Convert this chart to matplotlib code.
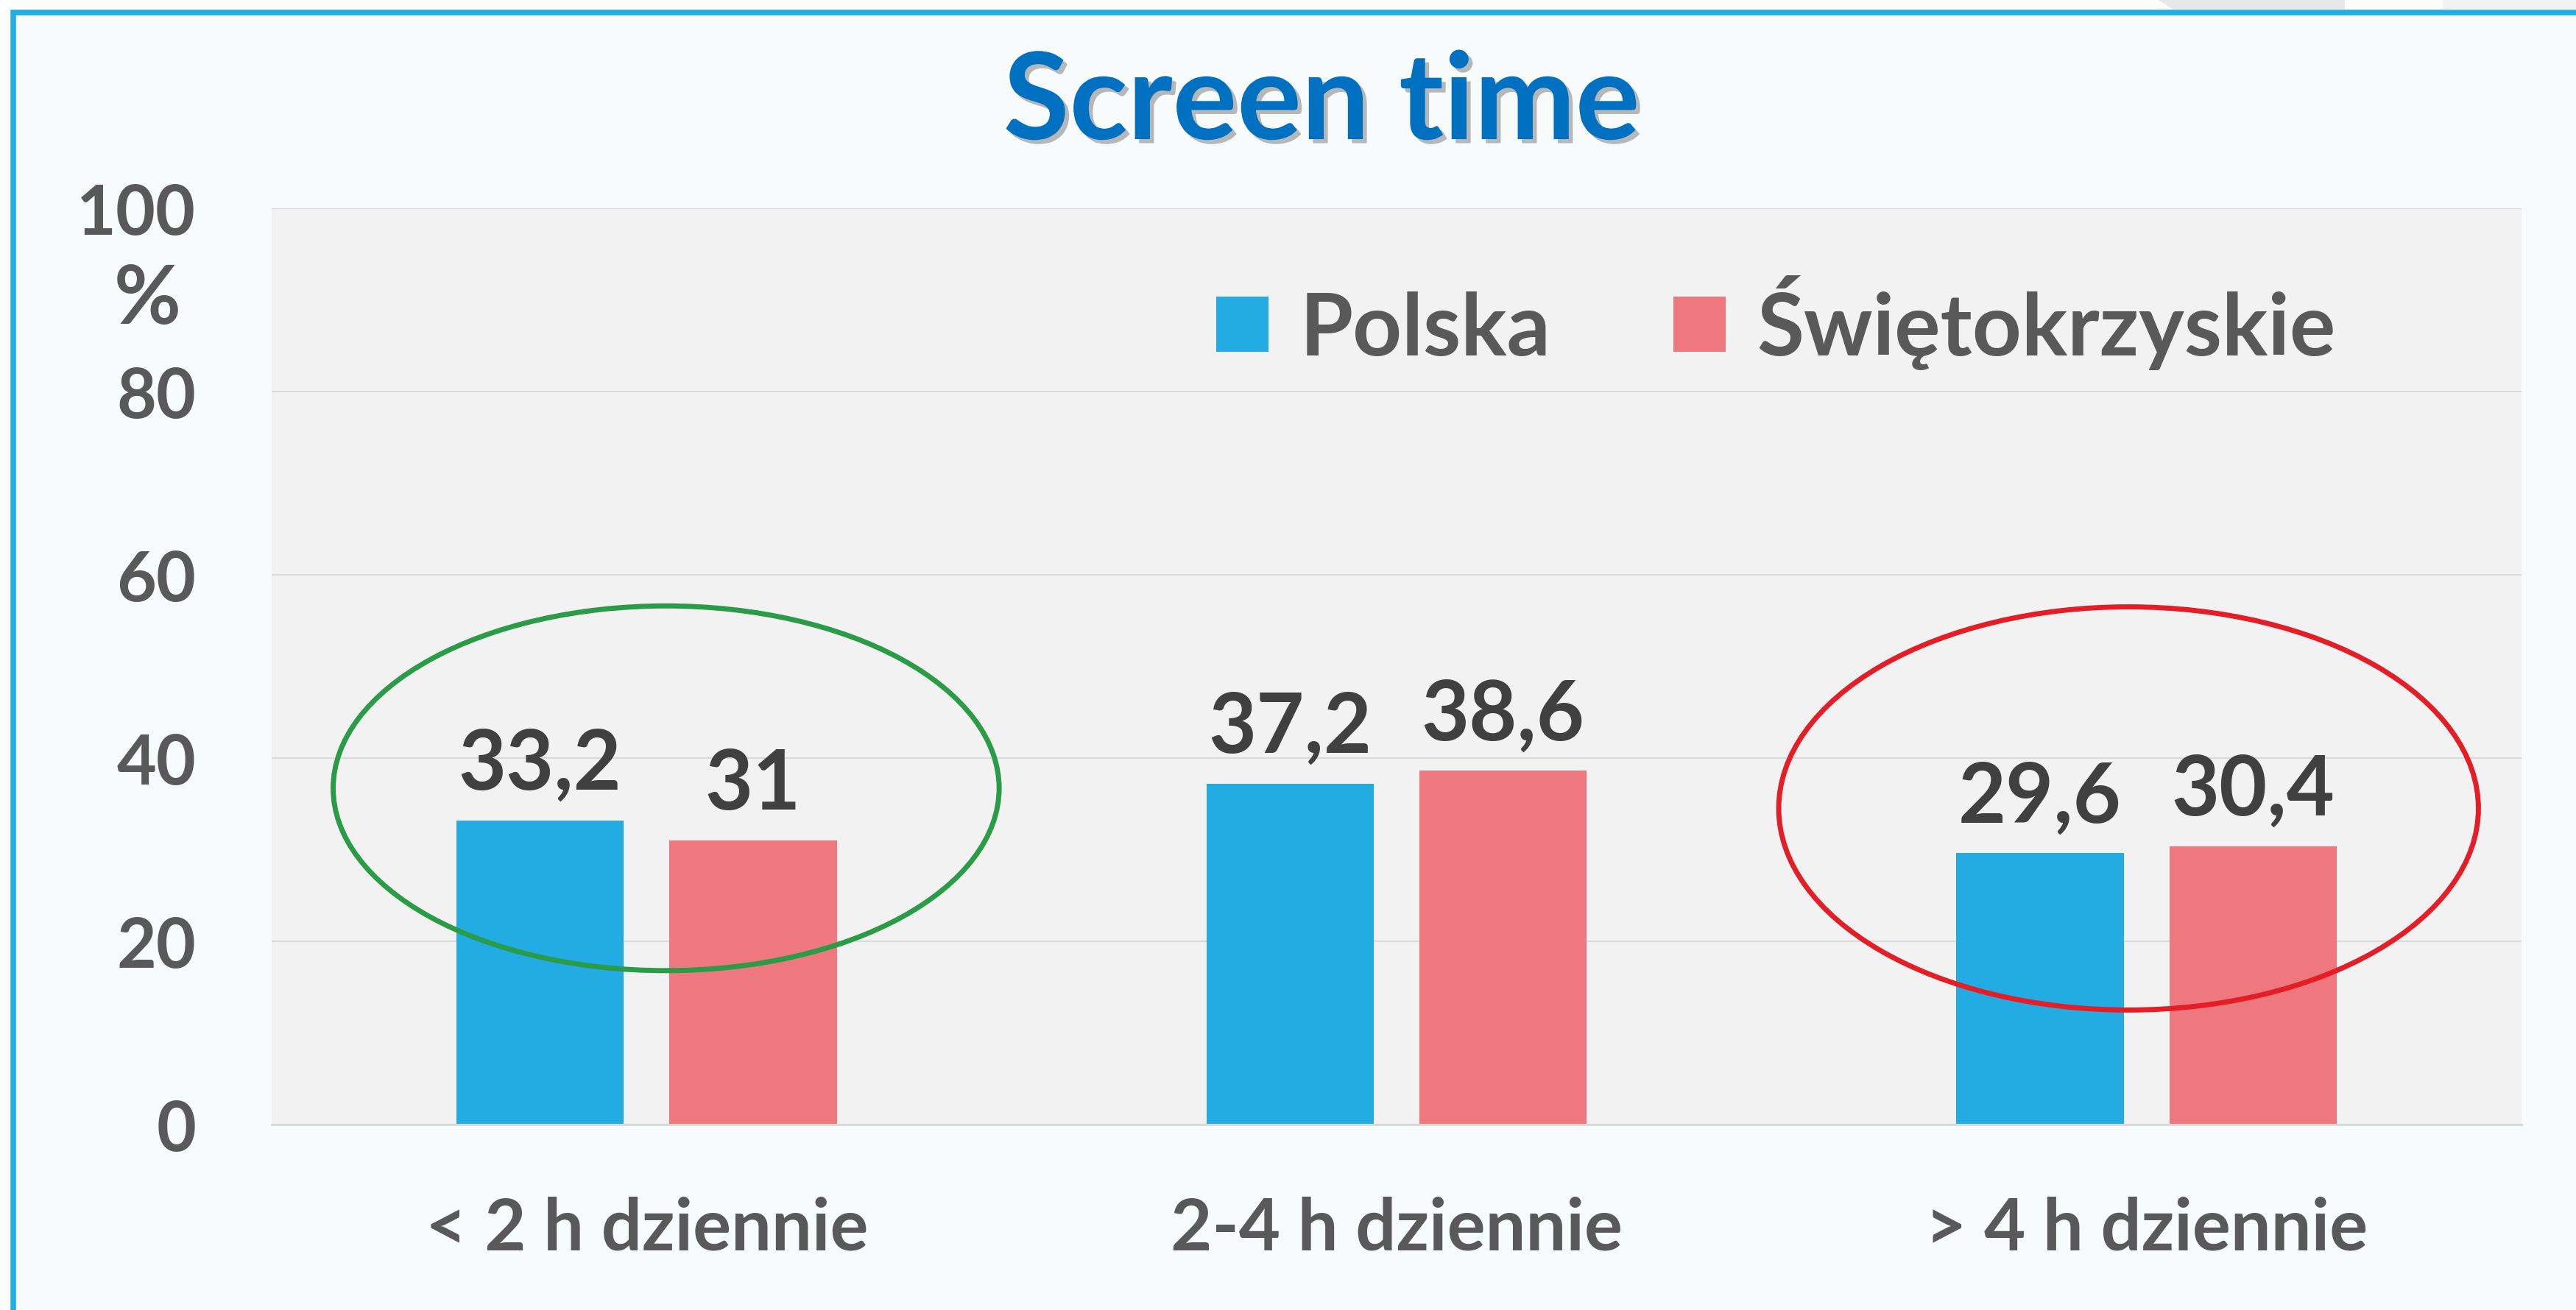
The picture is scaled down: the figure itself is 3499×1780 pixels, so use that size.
#!/usr/bin/env python3
# Screen time: Polska vs Swietokrzyskie, grouped bars with highlight ellipses

import matplotlib
matplotlib.use('Agg')
import matplotlib.pyplot as plt
import matplotlib.patheffects as pe
from matplotlib.patches import Ellipse, Rectangle, Polygon
import numpy as np

plt.rcParams['font.family'] = ['Lato', 'DejaVu Sans']
plt.rcParams['font.weight'] = 'bold'

# data
categories = ["< 2 h dziennie", "2-4 h dziennie", "> 4 h dziennie"]
polska = [33.2, 37.2, 29.6]
swietokrzyskie = [31, 38.6, 30.4]
series_names = ["Polska", "Świętokrzyskie"]
yticks = [0, 20, 40, 60, 80, 100]

blue = '#22ace3'
pink = '#ef787e'
grey_txt = '#595959'
dark_txt = '#404040'

W, H = 3499, 1781
dpi = 100
fig = plt.figure(figsize=(W / dpi, H / dpi), dpi=dpi, facecolor='white')

# slide frame (blue border on top/left, pale background)
fig.patches.append(Rectangle((17.5, -60), W + 100, H - 18 + 60,
                             transform=None, facecolor='#f7fbfc',
                             edgecolor='#21aee4', linewidth=5.4, zorder=-2))
fig.patches.append(Polygon([(2930, H), (2952, H - 14), (3185, H - 14),
                            (3185, H)], closed=True, transform=None,
                           facecolor='#e6e7e9', edgecolor='none', zorder=-3))
fig.patches.append(Rectangle((3318, H - 14), 200, 14, transform=None,
                             facecolor='#f1f2f2', edgecolor='none', zorder=-3))

ax = fig.add_axes([369 / W, 1 - 1529 / H, (3425 - 369) / W, (1529 - 284) / H])
ax.set_zorder(1)
ax.set_facecolor('#f2f2f2')

x = np.arange(len(categories))
bar_width = 0.223
off = 0.142

b1 = ax.bar(x - off, polska, bar_width, color=blue, zorder=2,
            label=series_names[0])
b2 = ax.bar(x + off, swietokrzyskie, bar_width, color=pink, zorder=2,
            label=series_names[1])

# value labels
for bars, vals in ((b1, polska), (b2, swietokrzyskie)):
    for rect, v in zip(bars, vals):
        ax.annotate(f"{v:g}".replace('.', ','),
                    (rect.get_x() + rect.get_width() / 2, v),
                    xytext=(0, 31), textcoords='offset points',
                    ha='center', va='baseline', fontsize=81,
                    color=dark_txt, fontweight='bold', zorder=4)

# highlight ellipses
ax.add_patch(Ellipse((0.026, 36.7), 0.888, 39.8, fill=False,
                     edgecolor='#2a9b47', linewidth=5, zorder=3))
ax.add_patch(Ellipse((1.976, 34.5), 0.933, 44.0, fill=False,
                     edgecolor='#e31e27', linewidth=5, zorder=3))

ax.set_xlim(-0.5, 2.5)
ax.set_ylim(0, 100)
ax.set_yticks(yticks)
ax.set_xticks(x)
ax.set_xticklabels(categories)

ax.grid(which='major', axis='y', color='#d9d9d9', linewidth=1.5, zorder=1)
ax.set_axisbelow(True)
for s in ['left', 'right', 'top']:
    ax.spines[s].set_visible(False)
ax.spines['bottom'].set_color('#d9d9d9')
ax.spines['bottom'].set_linewidth(2.2)
ax.spines['bottom'].set_zorder(3)

ax.tick_params(axis='y', length=0, pad=74, labelsize=67, labelcolor=grey_txt)
ax.tick_params(axis='x', length=0, pad=122, labelsize=70, labelcolor=grey_txt)
for lab in ax.get_xticklabels():
    lab.set_verticalalignment('baseline')
    lab.set_fontweight('bold')
for lab in ax.get_yticklabels():
    lab.set_fontweight('bold')

# "%" unit under the top tick
fig.text(200 / W, 1 - 408 / H, '%', ha='center', va='center',
         fontsize=80, color=grey_txt, fontweight='bold')

# title
fig.text(1795 / W, 1 - 190 / H, 'Screen time', ha='center', va='baseline',
         fontsize=118, color='#0070c0', fontweight='bold',
         path_effects=[pe.withSimplePatchShadow(offset=(4, -4),
                                                shadow_rgbFace='#666666',
                                                alpha=0.45)])

# legend
leg = ax.legend(loc='upper left', bbox_to_anchor=(1652 / W, 1 - 374 / H),
                bbox_transform=fig.transFigure, ncol=2, frameon=False,
                fontsize=84, handlelength=0.61, handleheight=0.61,
                handletextpad=0.36, columnspacing=1.43, borderpad=0,
                borderaxespad=0)
for t in leg.get_texts():
    t.set_color(grey_txt)
    t.set_fontweight('bold')

plt.savefig('out.png', dpi=dpi)
